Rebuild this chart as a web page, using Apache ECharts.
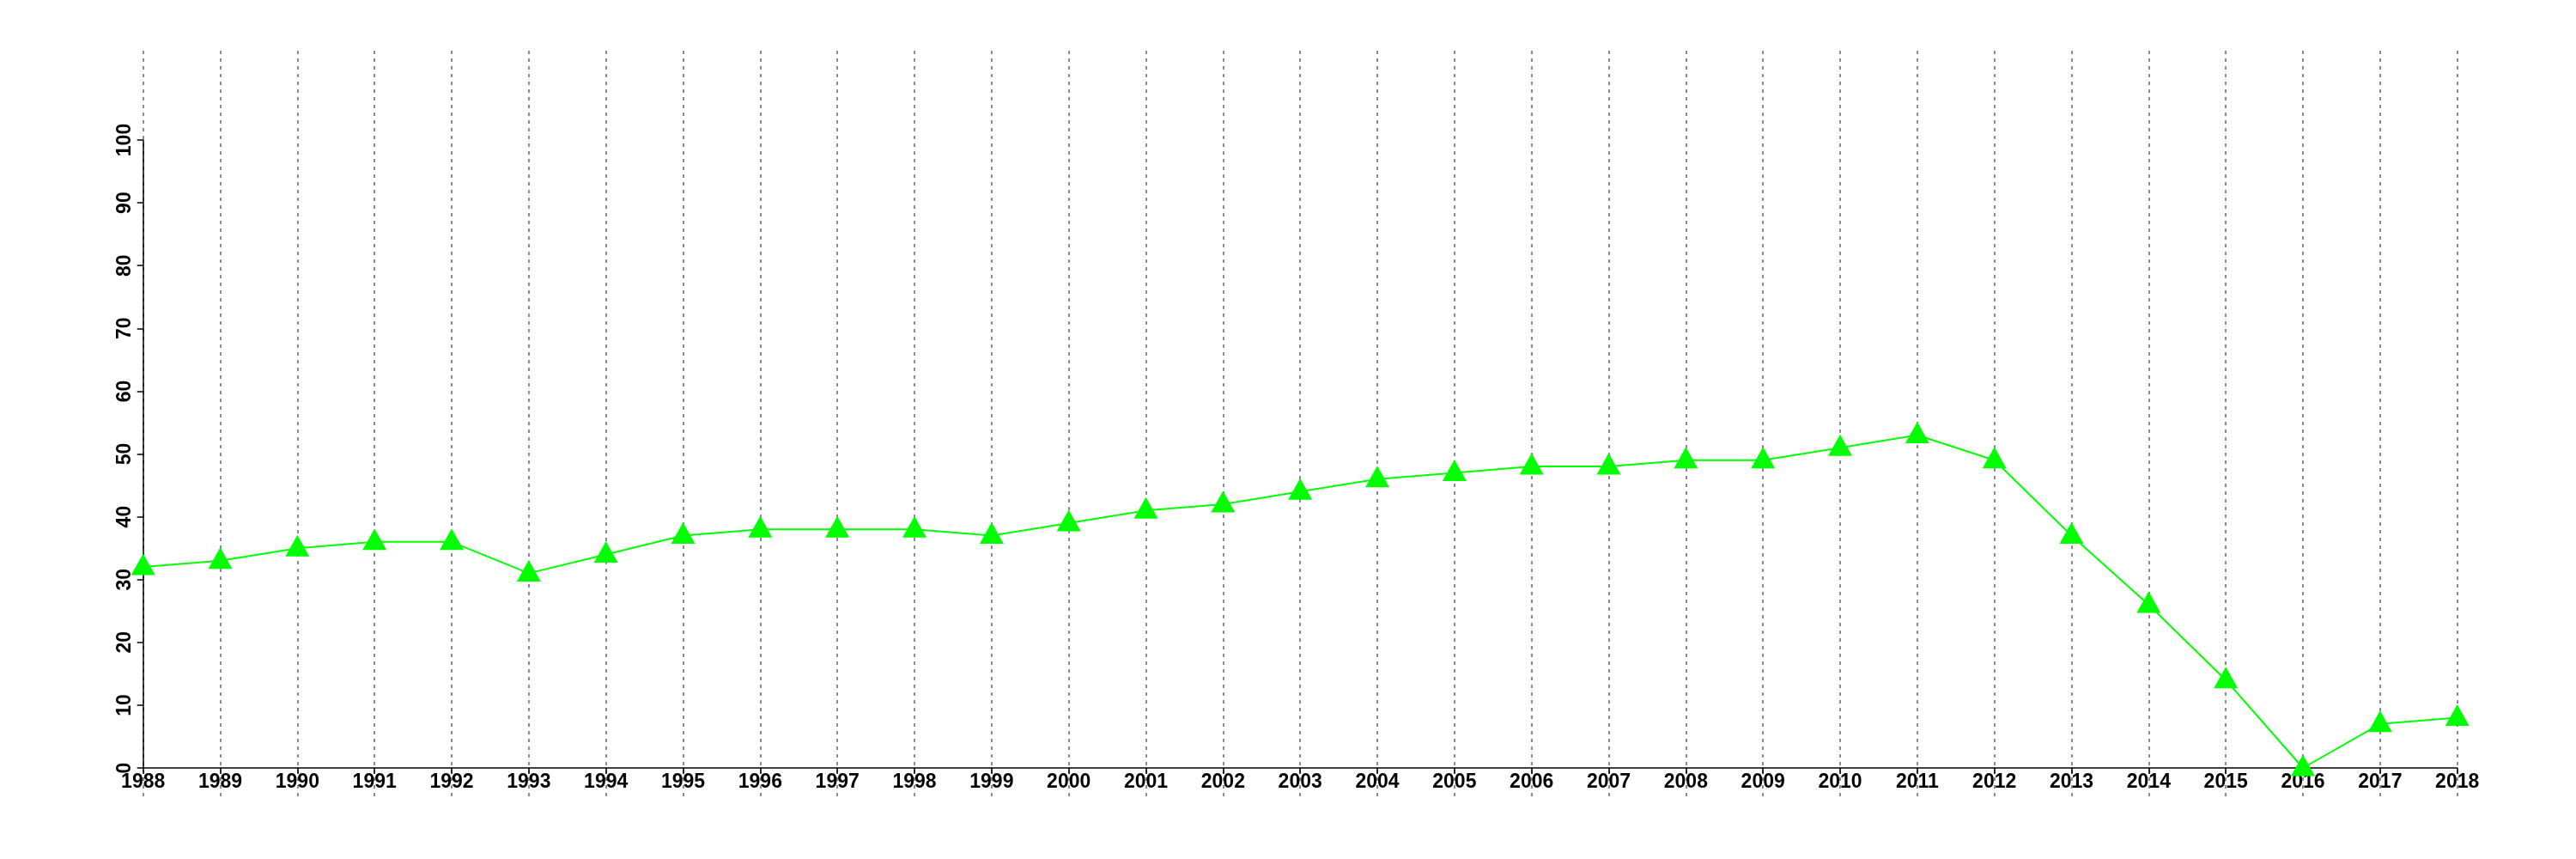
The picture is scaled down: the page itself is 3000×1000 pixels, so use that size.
<!DOCTYPE html>
<html>
<head>
<meta charset="utf-8">
<script src="https://cdn.jsdelivr.net/npm/echarts@6/dist/echarts.min.js"></script>
<style>
html,body{margin:0;padding:0;background:#fff;}
#chart{width:3000px;height:1000px;}
</style>
</head>
<body>
<div id="chart"></div>
<script>
const years = ['1988','1989','1990','1991','1992','1993','1994','1995','1996','1997','1998','1999','2000','2001','2002','2003','2004','2005','2006','2007','2008','2009','2010','2011','2012','2013','2014','2015','2016','2017','2018'];
const values = [32,33,35,36,36,31,34,37,38,38,38,37,39,41,42,44,46,47,48,48,49,49,51,53,49,37,26,14,0,7,8];
const yMin = 0;
const yMax = 100;
const yStep = 10;

const font = 'Liberation Sans, Arial, Helvetica, sans-serif';
const chart = echarts.init(document.getElementById('chart'), null, {renderer:'canvas'});
chart.setOption({
  animation: false,
  backgroundColor: '#ffffff',
  grid: [
    {left: 166.7, right: 138.3, top: 163, bottom: 106},
    {left: 166.7, right: 138.3, top: 59, bottom: 72}
  ],
  xAxis: [
    {
      type: 'category', data: years, boundaryGap: false, gridIndex: 0, z: 3,
      axisLine: {show: true, lineStyle: {color: '#000', width: 1.5}},
      axisTick: {show: true, length: 7, interval: 0, lineStyle: {color: '#000', width: 1.5}},
      axisLabel: {show: true, interval: 0, color: '#000', fontWeight: 'bold', fontSize: 23, fontFamily: font, margin: 5},
      splitLine: {show: false}
    },
    {
      type: 'category', data: years, boundaryGap: false, gridIndex: 1, z: 1,
      axisLine: {show: false}, axisTick: {show: false}, axisLabel: {show: false},
      splitLine: {show: true, interval: 0, lineStyle: {color: '#808080', width: 1.8, type: [4, 5]}}
    }
  ],
  yAxis: [
    {
      type: 'value', min: yMin, max: yMax, interval: yStep, gridIndex: 0, z: 3,
      axisLine: {show: true, lineStyle: {color: '#000', width: 1.5}},
      axisTick: {show: true, length: 7, lineStyle: {color: '#000', width: 1.5}},
      axisLabel: {show: true, rotate: 90, color: '#000', fontWeight: 'bold', fontSize: 23, fontFamily: font, margin: 10},
      splitLine: {show: false}
    },
    {
      type: 'value', gridIndex: 1, min: 0, max: 1,
      axisLine: {show: false}, axisTick: {show: false}, axisLabel: {show: false}, splitLine: {show: false}
    }
  ],
  series: [
    {
      type: 'line', data: values, xAxisIndex: 0, yAxisIndex: 0, z: 5,
      symbol: 'triangle', symbolSize: [28, 25], symbolOffset: [0, -3],
      showAllSymbol: true, clip: false,
      lineStyle: {color: '#00ff00', width: 2},
      itemStyle: {color: '#00ff00'}
    }
  ]
});
</script>
</body>
</html>
